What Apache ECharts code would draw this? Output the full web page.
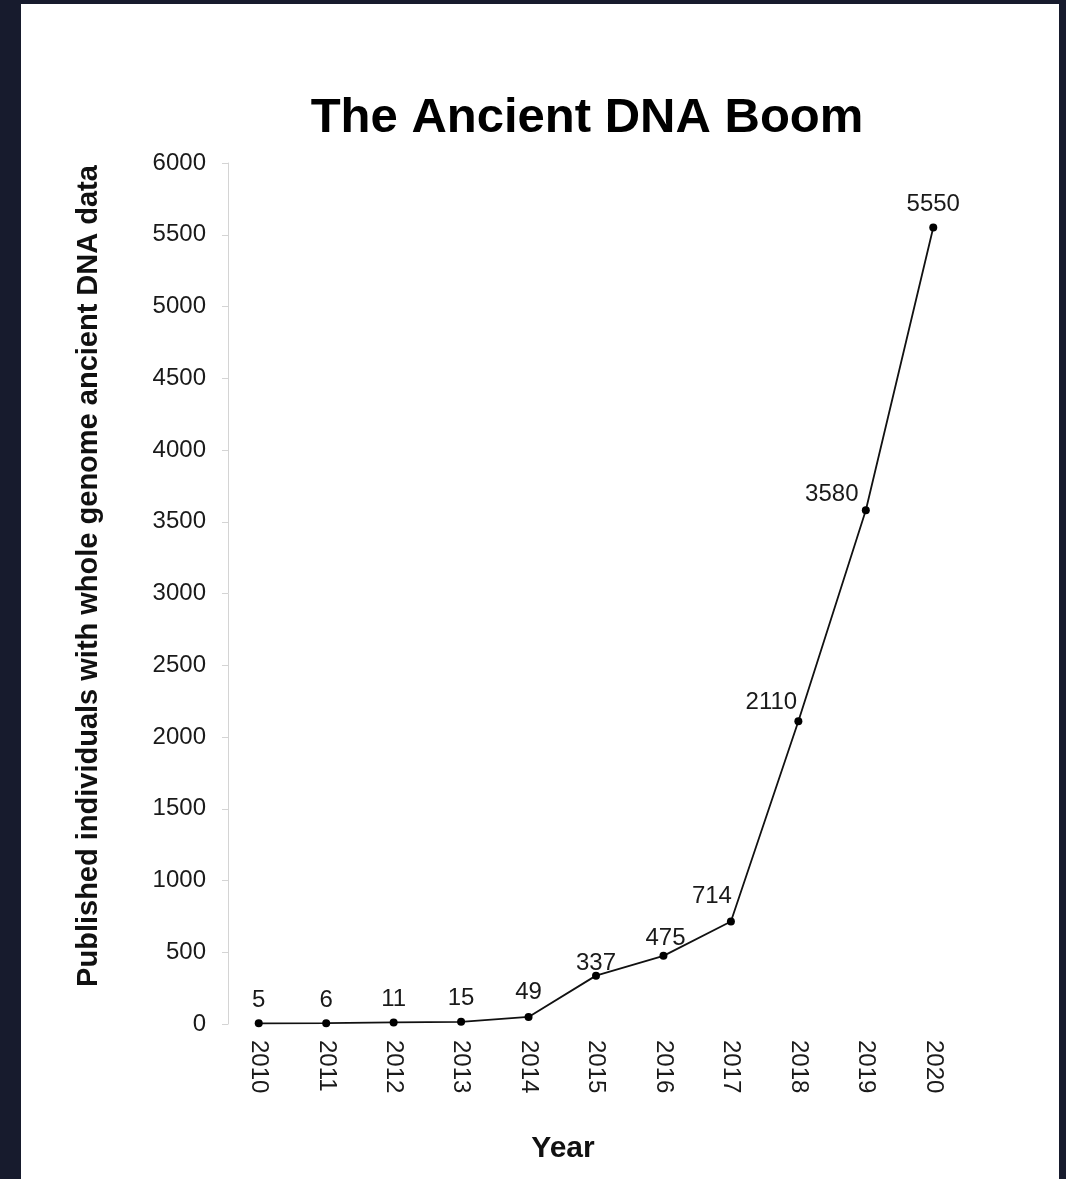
<!DOCTYPE html>
<html>
<head>
<meta charset="utf-8">
<title>The Ancient DNA Boom</title>
<script src="https://cdn.jsdelivr.net/npm/echarts@6/dist/echarts.min.js"></script>
<style>
	html, body { margin: 0; padding: 0; background: #171b2d; }
	#chart { position: absolute; left: 21px; top: 4px; width: 1038px; height: 1175px; background: #fff; }
</style>
</head>
<body>
<div id="chart"></div>
<script>
	var years = ['2010','2011','2012','2013','2014','2015','2016','2017','2018','2019','2020'];
	var individuals = [5, 6, 11, 15, 49, 337, 475, 714, 2110, 3580, 5550];
	var yTicks = [0, 500, 1000, 1500, 2000, 2500, 3000, 3500, 4000, 4500, 5000, 5500, 6000];

	// label nudges so the numbers sit where they do in the original
	var labelShift = [[0,0],[0,0],[0,0],[0,0],[0,-2],[0,11],[2,6],[-19,-2],[-27,4],[-34,7],[0,0]];

	var font = 'Liberation Sans, Arial, Helvetica, sans-serif';

	function buildData(){
		return individuals.map(function(v, i){
			return { value: v, label: { offset: labelShift[i] } };
		});
	}

	function renderChart(){
		var myChart = echarts.init(document.getElementById('chart'));
		var option = {
			animation: false,
			title: {
				text: 'The Ancient DNA Boom',
				left: 561,
				top: 85,
				textAlign: 'center',
				textStyle: { fontFamily: font, fontSize: 49, fontWeight: 'bold', color: '#000' }
			},
			grid: { left: 204, top: 159, width: 742, height: 861 },
			xAxis: {
				type: 'category',
				data: years,
				boundaryGap: true,
				axisLine: { show: false },
				axisTick: { show: false },
				axisLabel: { rotate: -90, margin: 16, fontFamily: font, fontSize: 24, color: '#1a1a1a' },
				name: 'Year',
				nameLocation: 'middle',
				nameGap: 110,
				nameTextStyle: { fontFamily: font, fontSize: 30, fontWeight: 'bold', color: '#111', padding: [0, 66, 0, 0] }
			},
			yAxis: {
				type: 'value',
				min: yTicks[0],
				max: yTicks[yTicks.length - 1],
				interval: 500,
				offset: -3,
				splitLine: { show: false },
				axisLine: { show: true, lineStyle: { color: '#d4d4d4', width: 1 } },
				axisTick: { show: true, length: 6, lineStyle: { color: '#d4d4d4' } },
				axisLabel: {
					margin: 22, fontFamily: font, fontSize: 24, color: '#1a1a1a',
					formatter: function(v){ return String(v); }
				},
				name: 'Published individuals with whole genome ancient DNA data',
				nameLocation: 'middle',
				nameGap: 125,
				nameTextStyle: { fontFamily: font, fontSize: 29, fontWeight: 'bold', color: '#111', padding: [0, 0, 0, 35] }
			},
			series: [
				{
					name: 'Individuals',
					type: 'line',
					data: buildData(),
					symbol: 'circle',
					symbolSize: 8,
					lineStyle: { color: '#111', width: 1.8 },
					itemStyle: { color: '#000' },
					label: {
						show: true,
						position: 'top',
						distance: 7,
						fontFamily: font,
						fontSize: 24,
						color: '#1a1a1a'
					}
				}
			]
		};
		myChart.setOption(option);
	}

	renderChart();
</script>
</body>
</html>
